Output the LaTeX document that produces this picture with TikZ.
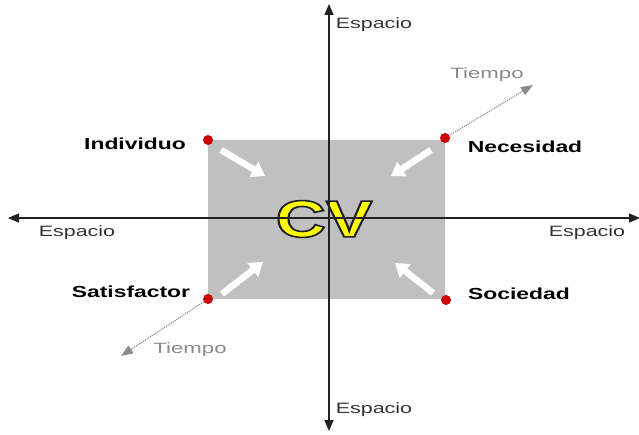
\documentclass[tikz,border=0pt]{standalone}
\usepackage{fontspec}
\setmainfont{Liberation Sans}
\usetikzlibrary{arrows.meta}
\definecolor{boxgray}{HTML}{C0C0C0}
\definecolor{axisc}{HTML}{222222}
\definecolor{txtgray}{HTML}{333333}
\definecolor{timegray}{HTML}{8A8A8A}
\definecolor{dotred}{HTML}{CC0000}
\definecolor{cvyellow}{HTML}{FFFF00}
\newcommand{\hs}[2][1.43]{\scalebox{#1}[1]{#2}}
\newcommand{\outlinetext}[1]{\special{pdf:literal direct 0.13 0.13 0.13 RG 2 Tr 1.6 w}#1\special{pdf:literal direct 0 Tr}}
\tikzset{
  axisline/.style={draw=axisc, line width=1.3pt, -{Triangle[width=9pt,length=11pt]}},
  timeline/.style={draw=timegray, line width=1.1pt, densely dotted, -{Triangle[width=9pt,length=12pt]}},
  whitearrow/.style={draw=white, line width=6.5pt, -{Triangle[width=17pt,length=13pt]}, shorten >=0pt},
  reddot/.style={circle, fill=dotred, inner sep=0pt, minimum size=10pt},
  biglabel/.style={font=\fontsize{16}{18}\selectfont\bfseries, text=black, inner sep=0pt},
  spacelabel/.style={font=\fontsize{15}{17}\selectfont, text=txtgray, inner sep=0pt},
  timelabel/.style={font=\fontsize{15}{17}\selectfont, text=timegray, inner sep=0pt},
}
\begin{document}
\begin{tikzpicture}[x=1pt, y=-1pt]
\useasboundingbox (0,0) rectangle (639,435);
% gray square
\fill[boxgray] (208,140) rectangle (445,299);
% CV text with outline
\node (cv) [font=\fontsize{52}{56}\selectfont\bfseries, text=cvyellow, inner sep=0pt] at (324,219) {\hs[1.34]{\outlinetext{CV}}};
% axes
\coordinate (hl) at (8,218);
\coordinate (hr) at (640,218);
\coordinate (vt) at (329,4);
\coordinate (vb) at (329,431);
\coordinate (hc) at (329,218);
\draw[axisline] (hc) -- (hl);
\draw[axisline] (hc) -- (hr);
\draw[axisline] (hc) -- (vt);
\draw[axisline] (hc) -- (vb);
% corner dots
\node[reddot] (ind) at (208,140) {};
\node[reddot] (nec) at (445,138) {};
\node[reddot] (sat) at (208,299) {};
\node[reddot] (soc) at (446,300) {};
% time arrows
\coordinate (t1) at (533,85);
\coordinate (t2) at (121,356);
\draw[timeline] (nec) -- (t1);
\draw[timeline] (sat) -- (t2);
% white arrows
\coordinate (a1s) at (221,150);
\coordinate (a1e) at (265,176);
\coordinate (a2s) at (431,150);
\coordinate (a2e) at (391,176);
\coordinate (a3s) at (222,294);
\coordinate (a3e) at (263,262);
\coordinate (a4s) at (433,293);
\coordinate (a4e) at (395,263);
\draw[whitearrow] (a1s) -- (a1e);
\draw[whitearrow] (a2s) -- (a2e);
\draw[whitearrow] (a3s) -- (a3e);
\draw[whitearrow] (a4s) -- (a4e);
% labels
\node[biglabel] (lind) at (135,144) {\hs{Individuo}};
\node[biglabel] (lnec) at (525,147) {\hs{Necesidad}};
\node[biglabel] (lsat) at (131,292) {\hs{Satisfactor}};
\node[biglabel] (lsoc) at (519,294) {\hs{Sociedad}};
\node[spacelabel] (et) at (374,25) {\hs{Espacio}};
\node[spacelabel] (el) at (77,233) {\hs{Espacio}};
\node[spacelabel] (er) at (587,233) {\hs{Espacio}};
\node[spacelabel] (eb) at (374,410) {\hs{Espacio}};
\node[timelabel] (tt) at (487,75) {\hs[1.48]{Tiempo}};
\node[timelabel] (tb) at (190,350) {\hs[1.48]{Tiempo}};
\end{tikzpicture}
\end{document}
